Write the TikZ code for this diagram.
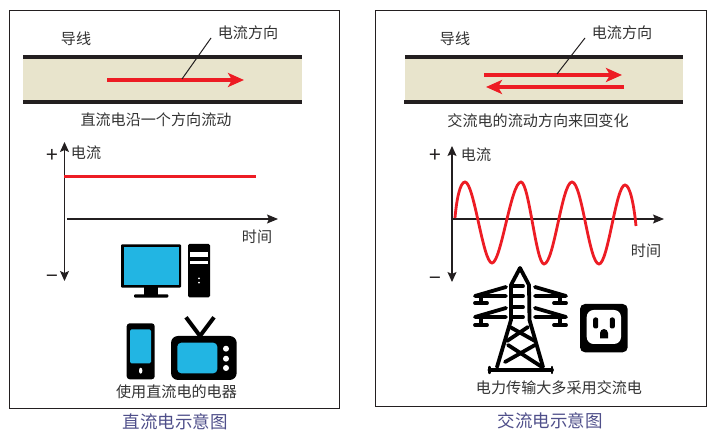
\documentclass[tikz,border=0pt]{standalone}
\usepackage{fontspec}
\setmainfont{Noto Sans CJK SC}
\usetikzlibrary{arrows.meta}
\definecolor{wirefill}{HTML}{E8E4CC}
\definecolor{wireblack}{HTML}{231F20}
\definecolor{flowred}{HTML}{ED1C24}
\definecolor{screenblue}{HTML}{22B5E3}
\definecolor{capcol}{HTML}{4F4F8A}
\definecolor{txtcol}{HTML}{333333}
\tikzset{
  frame/.style={draw=wireblack,line width=1pt,fill=white},
  wirebar/.style={fill=wireblack,draw=none},
  wirebody/.style={fill=wirefill,draw=none},
  flow/.style={draw=flowred,line width=3.6pt,-{Stealth[length=16pt,width=14pt,inset=4pt]},shorten >=0pt},
  leader/.style={draw=wireblack,line width=1pt},
  axis/.style={draw=wireblack,line width=1.1pt},
  axisboth/.style={axis,{Stealth[length=10pt,width=9pt,inset=2pt]}-{Stealth[length=10pt,width=9pt,inset=2pt]}},
  axisone/.style={axis,-{Stealth[length=11pt,width=9pt,inset=2pt]}},
  lab/.style={font=\fontsize{15.1pt}{16pt}\selectfont,text=txtcol,inner sep=0pt},
  sign/.style={font=\fontsize{21pt}{22pt}\selectfont,text=wireblack,inner sep=0pt},
  captxt/.style={font=\fontsize{17.5pt}{18pt}\selectfont,text=capcol,inner sep=0pt},
  ink/.style={fill=black,draw=none},
  scr/.style={fill=screenblue,draw=none},
  hole/.style={fill=white,draw=none},
  steel/.style={draw=black,line width=3.8pt,line cap=round,line join=round},
}
\begin{document}
\begin{tikzpicture}[x=1pt,y=-1pt]
\useasboundingbox (0,0) rectangle (716,435);
% frames
\draw[frame] (9.5,10.5) rectangle (339.5,409);
\draw[frame] (375.5,10.5) rectangle (706.5,407);
% left wire
\fill[wirebody] (23,59) rectangle (302,100);
\fill[wirebar] (23,55) rectangle (302,59);
\fill[wirebar] (23,100) rectangle (302,104);
\coordinate (la) at (107,80); \coordinate (lb) at (244,80);
\draw[flow] (la) -- (lb);
\node[lab] (ldx) at (76,38.5) {导线};
\node[lab] (ldir) at (248,32.5) {电流方向};
\coordinate (lc) at (211,38); \coordinate (ld) at (182,79);
\draw[leader] (lc) -- (ld);
\node[lab] (ltxt) at (156,119.5) {直流电沿一个方向流动};
% left graph
\coordinate (ly1) at (64.5,142); \coordinate (ly2) at (64.5,281);
\draw[axisboth] (ly1) -- (ly2);
\coordinate (lx1) at (67,219); \coordinate (lx2) at (278,219);
\draw[axisone] (lx1) -- (lx2);
\coordinate (lr1) at (64,176.3); \coordinate (lr2) at (256,176.3);
\draw[flowred,line width=3pt] (lr1) -- (lr2);
\node[sign] (lp) at (52,155.5) {+};
\node[sign] (lm) at (52,279) {−};
\node[lab] (li) at (86,153) {电流};
\node[lab] (lt) at (257,236.5) {时间};
% monitor
\fill[ink,rounded corners=1pt] (121,244.3) rectangle (181,287.7);
\fill[scr] (123.5,246.7) rectangle (179,285);
\fill[ink] (144.3,287) rectangle (158.3,295);
\fill[ink,rounded corners=1pt] (134,294.3) rectangle (168.3,297.7);
% tower PC
\fill[ink,rounded corners=1.5pt] (188,244) rectangle (210,297.3);
\fill[hole] (190,252) rectangle (208,256.7);
\fill[hole] (190,260.7) rectangle (208,264);
\fill[hole] (199,278.3) circle (1);
\fill[hole] (199,282.7) circle (1);
% phone
\fill[ink,rounded corners=3pt] (126.7,323.3) rectangle (154.7,379.3);
\fill[scr,rounded corners=1.5pt] (130,329.3) rectangle (151,363.3);
\fill[hole] (140.7,370.7) ellipse (1.7 and 3);
% tv
\draw[black,line width=4pt] (186,317.3) -- (200,336) -- (214,317.3);
\fill[ink,rounded corners=7pt] (171,336) rectangle (236.7,380);
\fill[scr,rounded corners=4pt] (177.3,342.7) rectangle (217.3,373.3);
\fill[hole] (226,348.7) circle (3);
\fill[hole] (226,358.7) circle (3);
\fill[hole] (226,368) circle (3);
\node[lab] (luse) at (176.5,392) {使用直流电的电器};
\node[captxt] (lcap) at (175,422) {直流电示意图};
% right wire
\fill[wirebody] (405,59) rectangle (683,100);
\fill[wirebar] (405,55) rectangle (683,59);
\fill[wirebar] (404,100) rectangle (683,104);
\coordinate (ra) at (484,75); \coordinate (rb) at (622,75);
\draw[flow] (ra) -- (rb);
\coordinate (rc) at (624,87); \coordinate (rd) at (486,87);
\draw[flow] (rc) -- (rd);
\node[lab] (rdx) at (455,38.5) {导线};
\node[lab] (rdir) at (622,32.5) {电流方向};
\coordinate (re) at (585,38); \coordinate (rf) at (557,74);
\draw[leader] (re) -- (rf);
\node[lab] (rtxt) at (538,120.5) {交流电的流动方向来回变化};
% right graph
\coordinate (ry1) at (452,146); \coordinate (ry2) at (452,282);
\draw[axisboth] (ry1) -- (ry2);
\coordinate (rx1) at (453,219); \coordinate (rx2) at (664,219);
\draw[axisone] (rx1) -- (rx2);
\draw[flowred,line width=2.8pt]
 (455,218) .. controls (456.5,200) and (460,182) .. (465,182)
 .. controls (474,182) and (483,263) .. (492,263)
 .. controls (501,263) and (511,182) .. (521,182)
 .. controls (529,182) and (536,264) .. (544,264)
 .. controls (554,264) and (562,182) .. (572,182)
 .. controls (582,182) and (589,264) .. (599,264)
 .. controls (608,264) and (616,185) .. (625,185)
 .. controls (630,185) and (634,205) .. (636,226);
\node[sign] (rp) at (435,155.5) {+};
\node[sign] (rm) at (435,281) {−};
\node[lab] (ri) at (476,155) {电流};
\node[lab] (rt) at (646,251) {时间};
% pylon
\draw[steel] (497,367) -- (511,320) -- (511,285) -- (520,268) -- (529,285) -- (529.5,320) -- (543,367);
\draw[steel] (489.5,370) -- (552,370);
\draw[steel,line width=2.4pt] (489.5,367) -- (489.5,373);
\draw[steel,line width=2.4pt] (552,367) -- (552,373);
\foreach \ya/\yb/\yc in {287/296/303,308/317/325}{
  \draw[steel] (506,\ya) -- (475,\yb) -- (506,\yb);
  \draw[steel] (535,\ya) -- (566,\yb) -- (535,\yb);
  \draw[steel] (481,\yb) -- (481,\yc);
  \draw[steel] (560,\yb) -- (560,\yc);
  \draw[steel] (475,\yc) -- (487,\yc);
  \draw[steel] (554,\yc) -- (566,\yc);
}
\foreach \y in {286,296,307,317}{\draw[steel] (512,\y) -- (523,\y);}
\draw[steel] (510,327) -- (535,341);
\draw[steel] (528,327) -- (507,341);
\draw[steel] (505,362) -- (535,345);
\draw[steel] (508,345) -- (542,367);
% outlet
\fill[ink,rounded corners=5pt] (580,304) rectangle (627.7,352.3);
\fill[hole,rounded corners=7pt] (586.7,310) rectangle (621,344);
\fill[ink,rounded corners=2pt] (593.2,317.5) rectangle (598.2,328.5);
\fill[ink,rounded corners=2pt] (609.8,317.5) rectangle (614.8,328.5);
\fill[ink] (600,338.3) -- (600,333) arc (180:360:4) -- (608,338.3) -- cycle;
\node[lab] (ruse) at (559,388) {电力传输大多采用交流电};
\node[captxt] (rcap) at (550,421) {交流电示意图};
\end{tikzpicture}
\end{document}
